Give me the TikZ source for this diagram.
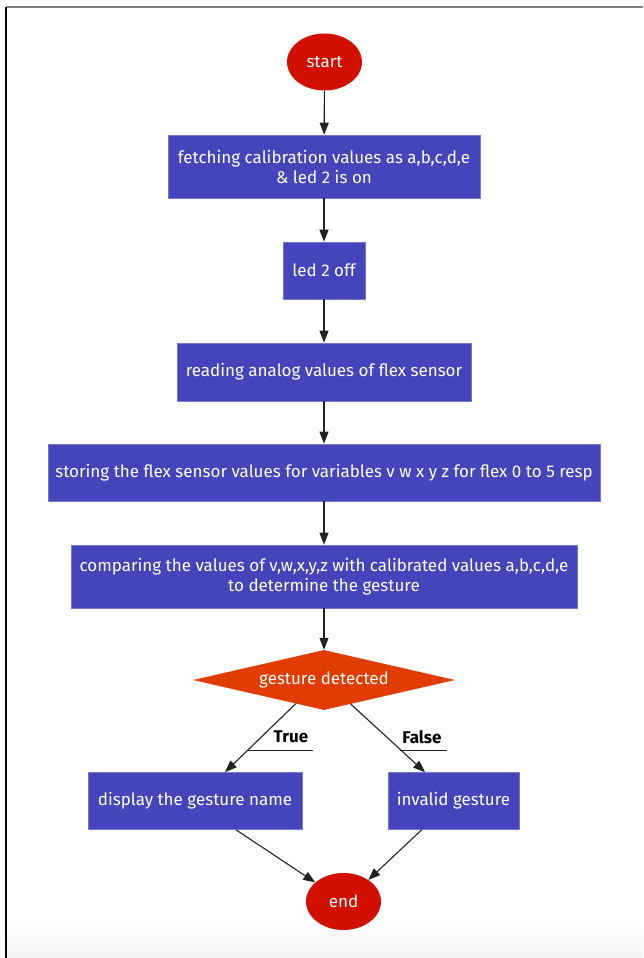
\documentclass[tikz,border=0pt]{standalone}
\usepackage{fontspec}
\setmainfont{Fira Sans}
\usetikzlibrary{shapes.geometric,arrows.meta}
\definecolor{boxblue}{HTML}{4444BB}
\definecolor{boxedge}{HTML}{7777D6}
\definecolor{termred}{HTML}{D11000}
\definecolor{decor}{HTML}{E03C00}
\definecolor{linec}{HTML}{222222}
\tikzset{
  txt/.style={font=\fontsize{17}{20}\selectfont, text=white, align=center},
  procbox/.style={txt, rectangle, fill=boxblue, draw=boxedge, line width=0.6pt, inner sep=0pt},
  term/.style={txt, ellipse, fill=termred, inner sep=0pt, minimum width=75pt, minimum height=57pt},
  decbox/.style={txt, diamond, fill=decor, inner sep=0pt, aspect=4.37, minimum width=262pt, minimum height=60pt},
  arr/.style={draw=linec, line width=1.1pt, -{Triangle[length=12pt,width=9pt]}},
  lbl/.style={font=\fontsize{17}{20}\selectfont\bfseries, text=black},
  ul/.style={draw=linec, line width=0.8pt}
}
\begin{document}
\begin{tikzpicture}[x=1pt,y=-1pt]
\useasboundingbox (0,0) rectangle (643,958);
\fill[white] (0,0) rectangle (643,958);
\shade[top color=white, bottom color=black!5] (6,922) rectangle (643,958);
\draw[black!50, line width=2pt] (6,7) -- (643,7);
\draw[black, line width=1.4pt] (6,7) -- (6,958);

\node[term] (start) at (324.5,62) {start};
\node[procbox, minimum width=312pt, minimum height=63pt] (b1) at (324,166.5) {fetching calibration values as a,b,c,d,e\\ \& led 2 is on};
\node[procbox, minimum width=82pt, minimum height=57pt] (b2) at (324,270.5) {led 2 off};
\node[procbox, minimum width=294pt, minimum height=58pt] (b3) at (324,372) {reading analog values of flex sensor};
\node[procbox, minimum width=552pt, minimum height=57pt] (b4) at (324,472.5) {storing the flex sensor values for variables v w x y z for flex 0 to 5 resp};
\node[procbox, minimum width=506pt, minimum height=63pt] (b5) at (324,576.5) {comparing the values of v,w,x,y,z with calibrated values a,b,c,d,e\\ to determine the gesture};
\node[decbox] (d) at (324,680) {gesture detected};
\node[procbox, minimum width=214pt, minimum height=57pt] (lb) at (195,801) {display the gesture name};
\node[procbox, minimum width=131pt, minimum height=57pt] (rb) at (453.5,801) {invalid gesture};
\node[term] (e) at (343.5,901.5) {end};

\draw[arr] (start) -- (b1);
\draw[arr] (b1) -- (b2);
\draw[arr] (b2) -- (b3);
\draw[arr] (b3) -- (b4);
\draw[arr] (b4) -- (b5);
\draw[arr] (b5) -- (d);
\draw[arr] (d.220) -- ([xshift=30pt]lb.north);
\draw[arr] (d.318.5) -- ([xshift=-28.5pt]rb.north);
\draw[arr] ([xshift=41pt]lb.south) -- (e.146.6);
\draw[arr] ([xshift=-31.8pt]rb.south) -- (e.41.6);

\node[lbl] (tt) at (291,737) {True};
\draw[ul] (248,750) -- (313,750);
\node[lbl] (ft) at (422,737) {False};
\draw[ul] (400,750) -- (447,750);
\end{tikzpicture}
\end{document}
